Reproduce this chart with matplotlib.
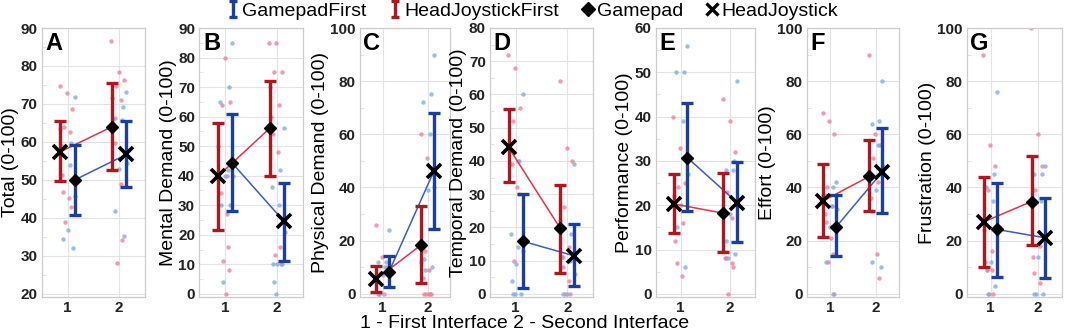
import matplotlib
matplotlib.use('Agg')
import matplotlib.pyplot as plt
from matplotlib.path import Path
from matplotlib.lines import Line2D
from matplotlib.ticker import MultipleLocator

plt.rcParams['font.family'] = ['Liberation Sans', 'DejaVu Sans']

# ---------------- data ----------------
panels = ['A', 'B', 'C', 'D', 'E', 'F', 'G']
ylabels = ['Total (0-100)', 'Mental Demand (0-100)', 'Physical Demand (0-100)',
           'Temporal Demand (0-100)', 'Performance (0-100)', 'Effort (0-100)',
           'Frustration (0-100)']
ymins = [20, 0, 0, 0, 0, 0, 0]
ymaxs = [90, 90, 100, 80, 60, 100, 100]
ysteps = [10, 10, 20, 10, 10, 20, 20]
xticklabels = ['1', '2']
legend_labels = ['GamepadFirst', 'HeadJoystickFirst', 'Gamepad', 'HeadJoystick']
xlabel = '1 - First Interface 2 - Second Interface'

# HeadJoystickFirst group (first interface = HeadJoystick, second = Gamepad)
hjf_mean = [[57.4, 64.0], [39.8, 56.0], [5.5, 18.4], [44.1, 19.8], [20.3, 18.2], [35.0, 44.2], [27.1, 34.7]]
hjf_lo = [[49.7, 52.6], [21.5, 40.0], [0.5, 3.9], [33.8, 6.4], [13.7, 9.4], [21.2, 31.0], [10.0, 18.4]]
hjf_hi = [[65.4, 75.6], [58.0, 72.0], [10.6, 33.0], [55.5, 32.7], [27.0, 27.2], [48.8, 57.8], [44.1, 52.0]]
# GamepadFirst group (first interface = Gamepad, second = HeadJoystick)
gpf_mean = [[50.0, 56.7], [44.2, 24.5], [8.1, 46.1], [15.8, 11.4], [30.7, 20.6], [25.2, 45.9], [24.2, 21.1]]
gpf_lo = [[40.8, 48.1], [28.0, 11.0], [2.6, 24.2], [1.8, 2.3], [18.8, 11.6], [14.1, 30.5], [6.5, 6.0]]
gpf_hi = [[59.1, 65.6], [61.0, 37.5], [14.4, 68.0], [30.1, 21.1], [43.1, 29.7], [37.0, 62.2], [41.7, 36.1]]

# individual ratings
hjf_pts1 = [
    [74.6, 72.9, 68.8, 64.0, 63.5, 62.5, 51.2, 46.8, 45.1, 42.8, 38.8],
    [85, 80, 65, 64, 50, 40, 39, 34, 27, 16, 11, 8, 0],
    [26, 14, 10, 8, 6, 0, 0, 0],
    [72, 68, 56, 52, 45, 40, 39, 39, 32, 30, 10],
    [40, 33, 25, 24, 22, 16, 12, 7, 4],
    [68, 65, 60, 40, 37, 33, 30, 27, 21, 15, 12, 0],
    [90, 56, 48, 39, 24, 16, 12, 9, 9, 0, 0],
]
gpf_pts1 = [
    [71.9, 59.6, 59.0, 53.8, 45.7, 36.7, 34.4, 32.1],
    [85, 70, 65, 42, 40, 40, 30, 30, 4],
    [24, 12, 12, 10, 9, 7, 0],
    [60, 40, 18, 14, 13, 9, 4, 0, 0, 0],
    [56, 50, 50, 39, 27, 20, 15, 6],
    [42, 40, 37, 33, 32, 25, 12, 0],
    [76, 45, 40, 35, 24, 12, 9, 3, 0],
]
hjf_pts2 = [
    [86.6, 78.4, 76.4, 74.6, 71.5, 71.0, 66.0, 59.7, 48.8, 34.1, 28.1],
    [85, 85, 75, 75, 70, 64, 60, 54, 48, 16, 13, 10],
    [60, 51, 45, 16, 12, 9, 6, 0, 0, 0, 0, 0],
    [64, 44, 40, 26, 22, 14, 11, 8, 4, 0, 0],
    [44, 39, 32, 23, 18, 17, 8, 8, 7, 6, 0],
    [90, 60, 56, 51, 45, 42, 36, 31, 15, 6],
    [100, 60, 48, 39, 35, 18, 14, 8, 4],
]
gpf_pts2 = [
    [73.2, 69.1, 66.2, 65.7, 54.4, 52.8, 41.7, 35.1],
    [56, 42, 36, 30, 21, 10, 10, 10, 4, 0],
    [90, 75, 72, 60, 40, 39, 13, 10, 9],
    [39, 18, 11, 10, 6, 0, 0],
    [48, 30, 28, 28, 20, 18, 12, 9, 8],
    [80, 65, 64, 56, 48, 39, 12, 10],
    [48, 45, 45, 35, 20, 14, 0, 0, 0],
]

# ---------------- style ----------------
W, H = 1065, 331
boxes = [(41.7, 145), (199.3, 302.7), (360, 450), (490, 593),
         (655.7, 755), (806.7, 899), (966.7, 1062)]
TOP, BOT = 28, 297
RED_ERR, BLUE_ERR = '#B0161E', '#1C3E9E'
RED_LINE, BLUE_LINE = '#E8304A', '#3A5CC8'
PINK, LBLUE = '#F28199', '#7FAEE6'
DODGE = 0.14
JIT = [-0.12, 0.06, -0.03, 0.11, -0.08, 0.02, 0.09, -0.11, 0.04, -0.05, 0.12, -0.01, 0.07]

fig = plt.figure(figsize=(W / 100, H / 100), dpi=100)

for i, (l, r) in enumerate(boxes):
    ax = fig.add_axes([l / W, (H - BOT) / H, (r - l) / W, (BOT - TOP) / H])
    rng = ymaxs[i] - ymins[i]
    ax.set_ylim(ymins[i] - rng * 0.012, ymaxs[i])
    ax.set_xlim(0.5, 2.5)
    ax.yaxis.set_major_locator(MultipleLocator(ysteps[i]))
    ax.yaxis.set_minor_locator(MultipleLocator(ysteps[i] / 2))
    ax.set_xticks([1, 2])
    ax.set_xticklabels(xticklabels)
    ax.grid(True, which='major', color='#e3e3e3', lw=0.8, zorder=0)
    ax.set_axisbelow(True)
    for s in ax.spines.values():
        s.set_color('#cccccc')
        s.set_linewidth(0.9)
    ax.tick_params(axis='both', which='major', length=0, pad=3.0, labelsize=11)
    ax.tick_params(axis='y', which='minor', length=3, direction='in', color='#dddddd')
    for lab in ax.get_xticklabels() + ax.get_yticklabels():
        lab.set_fontweight('bold')
        lab.set_color('#222222')
    ax.set_ylabel(ylabels[i], fontsize=14, labelpad=1)
    ax.text(0.035, 0.985, panels[i], transform=ax.transAxes, fontsize=17,
            fontweight='bold', va='top', ha='left')

    # jittered individual points
    for pts, base, col, sh in [(hjf_pts1[i], 1, PINK, -0.03), (gpf_pts1[i], 1, LBLUE, 0.03),
                               (hjf_pts2[i], 2, PINK, -0.03), (gpf_pts2[i], 2, LBLUE, 0.03)]:
        xs = [base + sh + JIT[(k * 5 + (0 if col == PINK else 3)) % len(JIT)] for k in range(len(pts))]
        ax.scatter(xs, pts, s=10, color=col, alpha=0.8, lw=0, zorder=1)

    xr = [1 - DODGE, 2 - DODGE]
    xb = [1 + DODGE, 2 + DODGE]
    ax.plot(xr, hjf_mean[i], color=RED_LINE, lw=1.1, zorder=3)
    ax.plot(xb, gpf_mean[i], color=BLUE_LINE, lw=1.1, zorder=3)
    ax.errorbar(xr, hjf_mean[i],
                yerr=[[m - lo for m, lo in zip(hjf_mean[i], hjf_lo[i])],
                      [hi - m for m, hi in zip(hjf_mean[i], hjf_hi[i])]],
                fmt='none', ecolor=RED_ERR, elinewidth=2.4, capsize=4.6, capthick=2.4, zorder=4)
    ax.errorbar(xb, gpf_mean[i],
                yerr=[[m - lo for m, lo in zip(gpf_mean[i], gpf_lo[i])],
                      [hi - m for m, hi in zip(gpf_mean[i], gpf_hi[i])]],
                fmt='none', ecolor=BLUE_ERR, elinewidth=2.4, capsize=4.6, capthick=2.4, zorder=4)
    # HeadJoystick = x, Gamepad = diamond
    ax.plot([xr[0]], [hjf_mean[i][0]], marker='x', ms=10, mew=2.6, color='black', ls='none', zorder=5)
    ax.plot([xr[1]], [hjf_mean[i][1]], marker='D', ms=6.5, color='black', ls='none', zorder=5)
    ax.plot([xb[0]], [gpf_mean[i][0]], marker='D', ms=6.5, color='black', ls='none', zorder=5)
    ax.plot([xb[1]], [gpf_mean[i][1]], marker='x', ms=10, mew=2.6, color='black', ls='none', zorder=5)

err_path = Path([(-0.5, 1), (0.5, 1), (0, 1), (0, -1), (-0.5, -1), (0.5, -1)],
                [Path.MOVETO, Path.LINETO, Path.MOVETO, Path.LINETO, Path.MOVETO, Path.LINETO])
handles = [
    Line2D([], [], marker=err_path, ls='none', color=BLUE_ERR, ms=12, mew=2.4),
    Line2D([], [], marker=err_path, ls='none', color=RED_ERR, ms=12, mew=2.4),
    Line2D([], [], marker='D', ls='none', color='black', ms=7),
    Line2D([], [], marker='x', ls='none', color='black', ms=8, mew=2.4),
]
fig.legend(handles, legend_labels, loc='center', bbox_to_anchor=(0.499, 1 - 11 / H), ncol=4,
           frameon=False, fontsize=14, handletextpad=0.1, columnspacing=1.05, handlelength=0.8,
           borderaxespad=0, borderpad=0)
fig.text(0.493, 3 / H, xlabel, ha='center', va='baseline', fontsize=14)

fig.savefig('out.png', dpi=100)
